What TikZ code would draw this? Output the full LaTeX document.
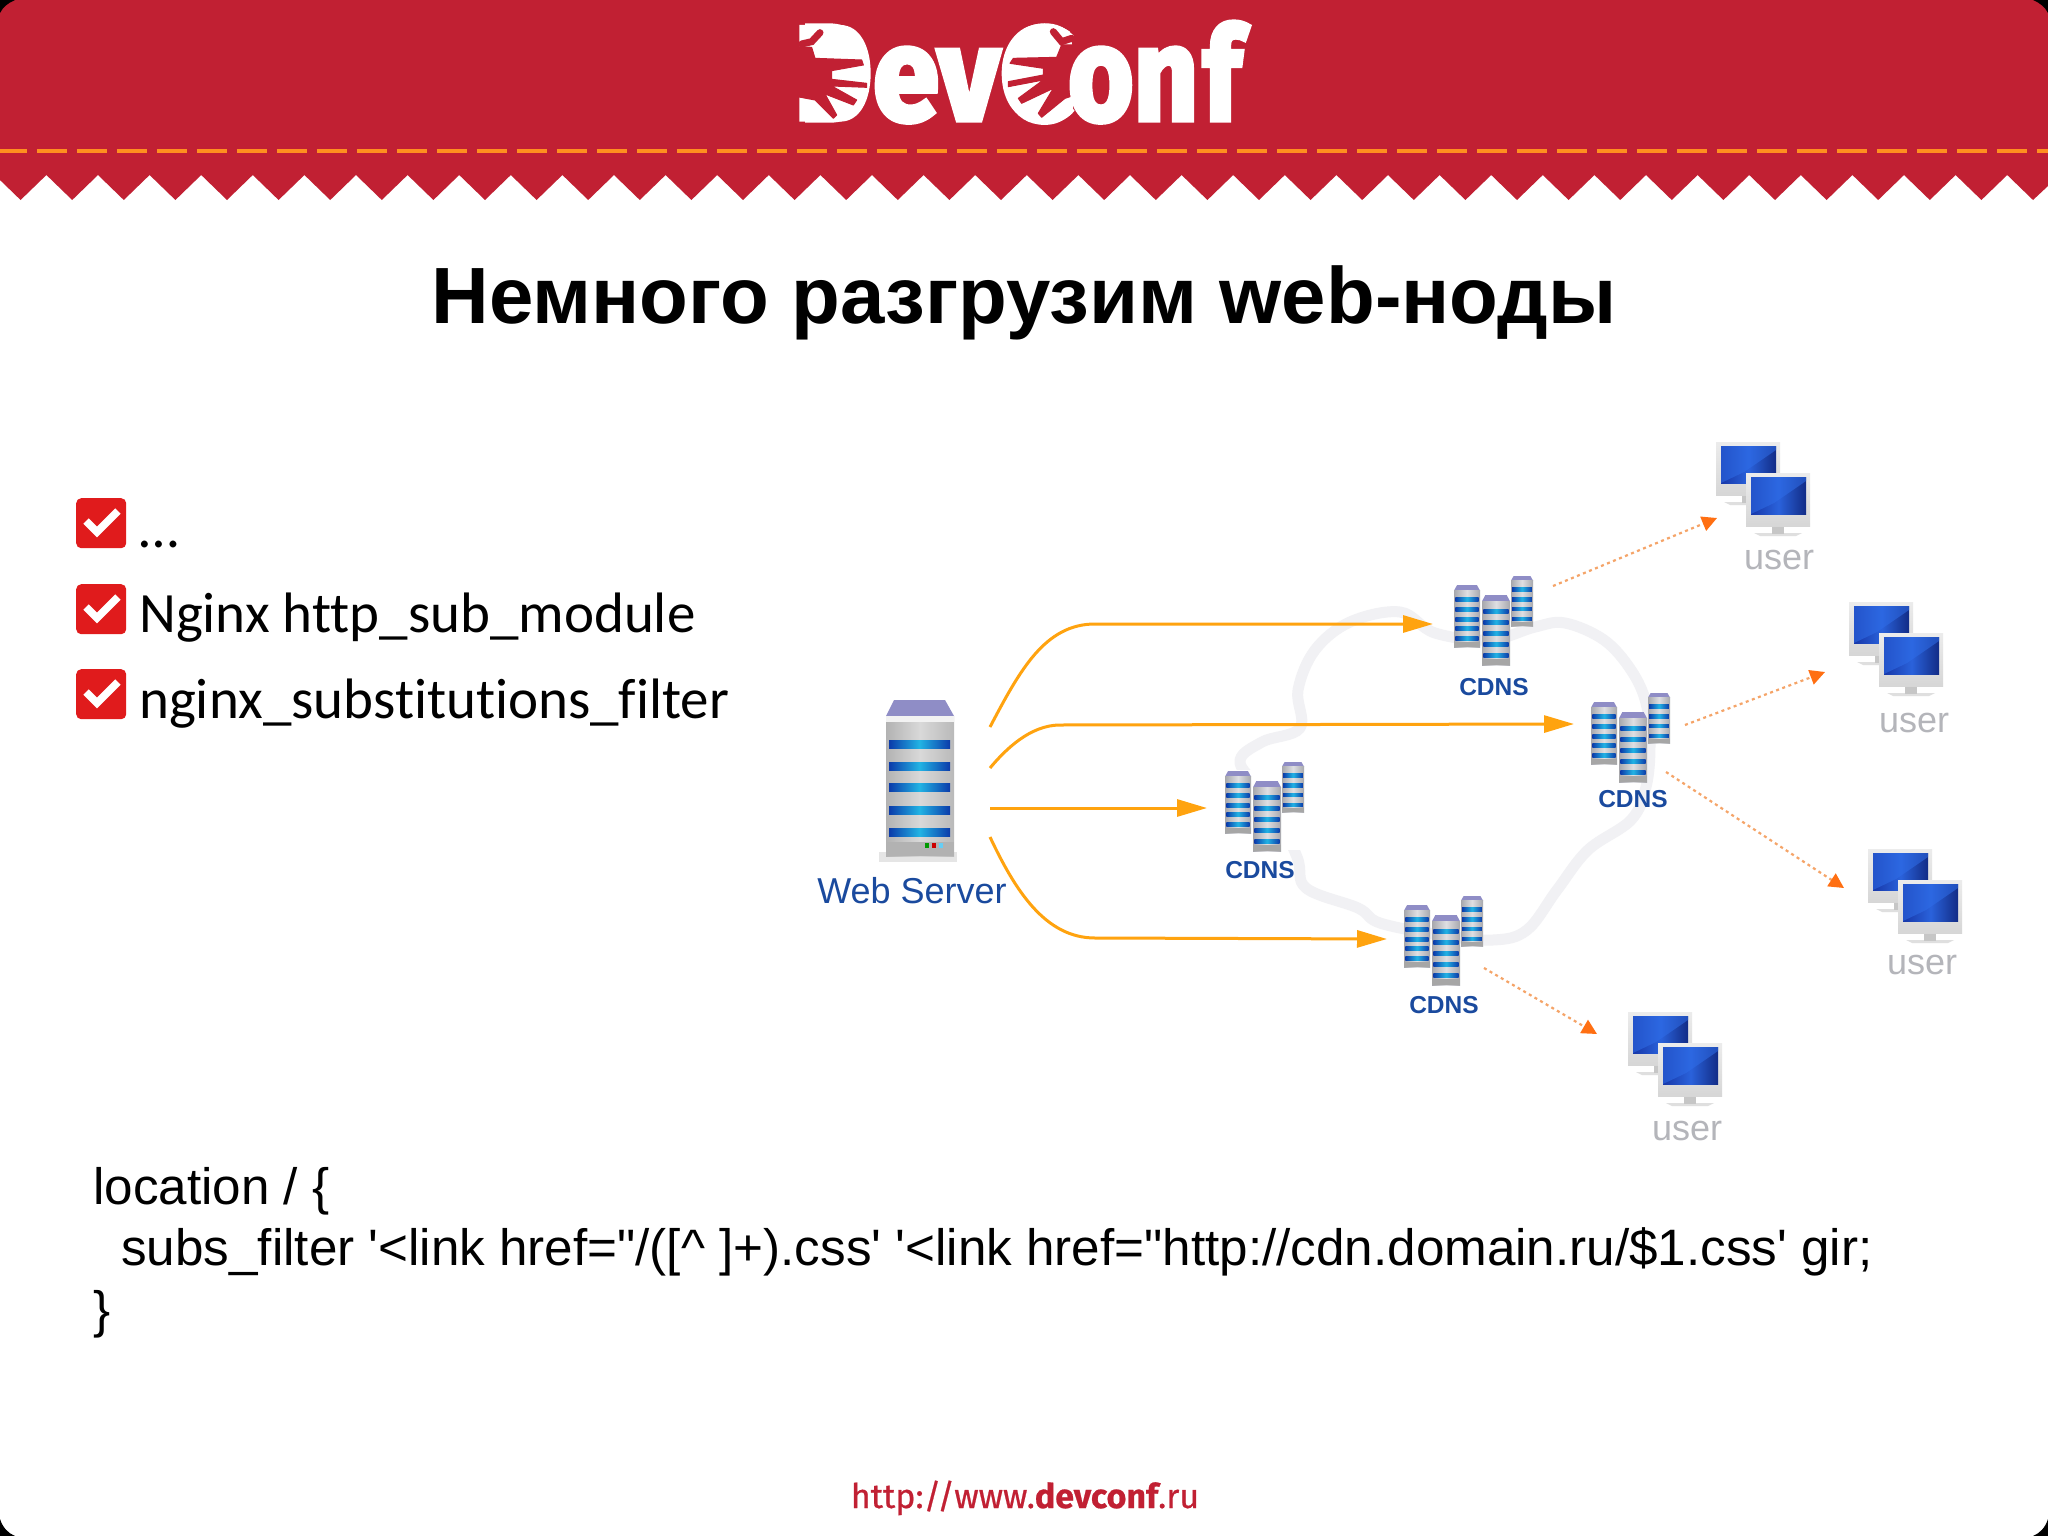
\documentclass[tikz,border=0pt]{standalone}
\usepackage{fontspec}
\usetikzlibrary{arrows.meta,calc}
\setmainfont{Liberation Sans}
\newfontfamily\codefont{Liberation Sans}
\newfontfamily\carlito[Ligatures=NoCommon]{Carlito}
\newfontfamily\ptsans[FakeBold=0.6]{Fira Sans}
\newfontfamily\logofont[BoldFeatures={FakeBold=4}]{Fira Sans}
\definecolor{devred}{HTML}{C12033}
\definecolor{dashor}{HTML}{FF8F1F}
\definecolor{boxred}{HTML}{E01B1C}
\definecolor{flowor}{HTML}{FFA30F}
\definecolor{dotor}{HTML}{F5A468}
\definecolor{tipor}{HTML}{FF6F12}
\definecolor{cloudg}{HTML}{F1F1F4}
\definecolor{srvblue}{HTML}{1A4A9E}
\definecolor{usergr}{HTML}{B4B5BA}
\definecolor{capv}{HTML}{8F8DC6}
\definecolor{bandd}{HTML}{0B3BAA}
\definecolor{bandc}{HTML}{22B4E4}
\definecolor{towerg}{HTML}{C4C5CB}
\definecolor{scrd}{HTML}{1737A8}
\definecolor{scrl}{HTML}{2F6DE8}
\tikzset{
  flow/.style={draw=flowor,line width=3pt,-{Triangle[length=30pt,width=17pt,fill=flowor]}},
  dotflow/.style={draw=dotor,line width=2.2pt,dash pattern=on 3pt off 3.5pt,-{Triangle[length=15pt,width=15pt,fill=tipor,color=tipor,sep=0pt]}},
  cloudline/.style={draw=cloudg,line width=11pt,line join=round},
  srvlabel/.style={text=srvblue,font=\fontsize{36}{40}\selectfont,anchor=base,inner sep=0pt},
  cdnlabel/.style={text=srvblue,font=\bfseries\fontsize{24.5}{28}\selectfont,anchor=base,inner sep=0pt},
  userlabel/.style={text=usergr,font=\fontsize{36}{40}\selectfont,anchor=base,inner sep=0pt},
  icon/.style={inner sep=0pt,outer sep=0pt,draw=none,anchor=north west},
  itemtext/.style={font=\carlito\fontsize{57}{62}\selectfont,anchor=base west,inner sep=0pt,text=black},
  codetext/.style={font=\codefont\fontsize{51.2}{62}\selectfont,anchor=base west,inner sep=0pt,text=black},
  checkbox/.style={fill=boxred,draw=none,rounded corners=5pt,minimum width=50pt,minimum height=50pt,anchor=north west,inner sep=0pt},
  tick/.style={draw=white,line width=7.5pt,line join=miter},
  logotext/.style={inner sep=0pt,anchor=base west,text=white,font=\logofont\bfseries},
  handcut/.style={fill=devred,draw=devred,line width=1pt,line join=round},
  finger/.style={draw=devred,line cap=round,line width=5pt}
}
\newcommand\towr[5]{%
 \begin{scope}[shift={(#1,#2)}]
  \fill[capv] (0.12*#3,0) -- (0.88*#3,0) -- (#3,0.09*#4) -- (0,0.09*#4) -- cycle;
  \shade[left color=towerg!85!black,right color=towerg!85!black,middle color=towerg!55!white] (0,0.09*#4) rectangle (#3,#4);
  \fill[gray!70] (0,0.92*#4) rectangle (#3,#4);
  \pgfmathsetmacro\bh{0.042*#4}
  \foreach \i in {1,...,#5}{
    \pgfmathsetmacro\by{0.09*#4+(\i-0.25)*(0.78*#4)/#5}
    \shade[left color=bandd,right color=bandd,middle color=bandc] (0.05*#3,\by) rectangle (0.95*#3,\by+\bh+1.5);
  }
 \end{scope}}
\newcommand\cdngroup[2]{%
  \towr{#1+57}{#2}{22}{50}{4}
  \towr{#1}{#2+9}{26}{62}{5}
  \towr{#1+28}{#2+19}{28}{70}{5}}
\newcommand\monitor[2]{%
 \begin{scope}[shift={(#1,#2)}]
  \fill[gray!25] (8,60) -- (56,60) -- (50,63) -- (14,63) -- cycle;
  \fill[gray!45] (26,53) rectangle (38,61);
  \shade[top color=gray!15,bottom color=gray!32] (0,0) rectangle (64,53);
  \shade[left color=scrd,right color=scrd!80!black,middle color=scrl!80!scrd] (5,4) rectangle (60,41);
  \fill[scrl,opacity=.55] (5,4) -- (60,4) -- (60,8) -- (28,30) -- (5,41) -- cycle;
 \end{scope}}
\newcommand\usergroup[2]{%
  \monitor{#1}{#2}
  \monitor{#1+30}{#2+31}}
\begin{document}
\begin{tikzpicture}[x=1pt,y=-1pt]
\useasboundingbox (0,0) rectangle (2048,1536);
\fill[white] (0,0) rectangle (2048,1536);
% header
\fill[devred] (-5,0) -- (2048,0) -- (2048,186)
  \foreach \k in {0,...,39}{ -- ({2033-51.6*\k},200) -- ({2033-51.6*\k-25.8},175)} -- cycle;
\draw[dashor,line width=4pt,dash pattern=on 30pt off 10pt,dash phase=3pt] (0,151) -- (2048,151);
% logo: letters
\node[logotext] (logoD) at (800,120) {\resizebox{70pt}{94pt}{D}};
\node[logotext] (logoev) at (873,120) {\resizebox{126pt}{72pt}{ev}};
\node[logotext] (logoC) at (1002,120) {\resizebox{70pt}{94pt}{C}};
\begin{scope}[shift={(760,0)},x=0.3333pt,y=-0.3333pt]
  \fill[white] (118,75) -- (240,75) .. controls (300,75) and (332,140) .. (332,220) .. controls (332,300) and (300,365) .. (240,365) -- (118,365) -- cycle;
  \fill[handcut] (112,140) -- (155,142) -- (165,175) -- (305,180) -- (310,195) -- (215,212) -- (215,238) -- (320,250) -- (320,262) -- (215,258) -- (290,300) -- (280,315) -- (195,282) -- (230,345) -- (220,355) -- (165,300) -- (112,290) -- cycle;
  \draw[finger,line width=7pt] (125,132) -- (155,125) -- (180,98);
  \fill[white] (930,95) .. controls (900,75) and (870,70) .. (840,72) .. controls (770,75) and (725,140) .. (725,220) .. controls (725,305) and (770,370) .. (850,370) .. controls (885,370) and (915,360) .. (937,340) -- (950,220) -- cycle;
  \fill[handcut] (905,135) -- (890,172) -- (760,175) -- (750,190) -- (850,205) -- (850,225) -- (745,245) -- (745,260) -- (850,240) -- (775,295) -- (785,310) -- (880,265) -- (835,340) -- (845,352) -- (915,295) -- (945,285) -- (945,135) -- cycle;
  \draw[finger,line width=7pt] (880,95) -- (905,125) -- (935,115);
\end{scope}
\node[logotext] (logoon) at (1068,120) {\resizebox{130pt}{72pt}{on}};
\node[logotext] (logof) at (1203,120) {\resizebox{38pt}{98pt}{f}};
% title
\node[inner sep=0pt,anchor=base] (title) at (1024,323)
  {\bfseries\fontsize{79.8}{90}\selectfont Немного разгрузим web-ноды};
% corners
\fill[black] (0,1536) -- (0,1519) .. controls (3,1528) and (8,1533) .. (15,1536) -- cycle;
\fill[black] (2048,1536) -- (2048,1519) .. controls (2045,1528) and (2040,1533) .. (2033,1536) -- cycle;
\fill[black] (0,0) -- (0,13) .. controls (3,7) and (8,3) .. (15,0) -- cycle;
\fill[black] (2048,0) -- (2048,13) .. controls (2045,7) and (2040,3) .. (2033,0) -- cycle;
% checklist
\foreach \nm/\yy in {a/498,b/584,c/669}{
  \node[checkbox] (box\nm) at (76,\yy) {};
  \draw[tick] ($(box\nm.north west)+(10,23)$) -- ($(box\nm.north west)+(21,34)$) -- ($(box\nm.north west)+(42,13)$);
}
\node[itemtext] (it1) at (139,547) {…};
\node[itemtext] (it2) at (139,632) {Nginx http\_sub\_module};
\node[itemtext] (it3) at (139,718) {nginx\_substitutions\_filter};
% code
\node[codetext] (c1) at (93,1204) {location / \{};
\node[codetext] (c2) at (121,1265) {subs\_filter '<link href="/([\^{} ]+).css' '<link href="http://cdn.domain.ru/\$1.css' gir;};
\node[codetext] (c3) at (93,1327) {\}};
% footer
\node[inner sep=0pt,anchor=base,text=devred] (foot) at (1025,1508)
  {\ptsans\fontsize{34}{40}\selectfont http://www.\textbf{devconf}.ru};
% cloud
\draw[cloudline] plot[smooth cycle,tension=0.6] coordinates {(1240,763) (1262,742) (1300,728) (1298,690) (1315,650) (1350,622) (1400,612) (1435,633) (1490,640) (1535,627) (1565,623) (1604,640) (1631,670) (1646,703) (1650,745) (1646,787) (1631,820) (1588,850) (1557,890) (1527,930) (1493,940) (1440,935) (1380,923) (1358,908) (1306,888) (1297,857) (1270,800)};
\fill[white] (1222,770) rectangle (1312,850);
% server
\fill[gray!20] (879,852) rectangle (957,862);
\node[icon,minimum width=68pt,minimum height=160pt] (ws) at (886,700) {};
\fill[capv] (894,700) -- (945,700) -- (954,716) -- (886,716) -- cycle;
\shade[left color=gray!60,right color=gray!55,middle color=gray!30] (886,716) rectangle (954,856);
\fill[gray!10] (886,716) rectangle (954,722);
\fill[gray!60] (886,842) rectangle (954,856);
\foreach \yy in {740,762,783,806,828}{
  \shade[left color=bandd,right color=bandd,middle color=bandc] (889,\yy) rectangle (950,\yy+8);
}
\fill[green!60!black] (925,843) rectangle (929,848);
\fill[red!80!black] (932,843) rectangle (936,848);
\fill[cyan!60] (939,843) rectangle (943,848);
\node[srvlabel] (wslab) at (912,903) {Web Server};
% CDNS
\node[icon,minimum width=79pt,minimum height=89pt] (cdnA) at (1225,762) {};
\node[icon,minimum width=79pt,minimum height=89pt] (cdnB) at (1454,576) {};
\node[icon,minimum width=79pt,minimum height=89pt] (cdnC) at (1591,693) {};
\node[icon,minimum width=79pt,minimum height=89pt] (cdnD) at (1404,896) {};
\cdngroup{1225}{762}
\cdngroup{1454}{576}
\cdngroup{1591}{693}
\cdngroup{1404}{896}
\node[cdnlabel] (labA) at (1260,878) {CDNS};
\node[cdnlabel] (labB) at (1494,695) {CDNS};
\node[cdnlabel] (labC) at (1633,807) {CDNS};
\node[cdnlabel] (labD) at (1444,1013) {CDNS};
% users
\node[icon,minimum width=95pt,minimum height=95pt] (userA) at (1716,442) {};
\node[icon,minimum width=95pt,minimum height=95pt] (userB) at (1849,602) {};
\node[icon,minimum width=95pt,minimum height=95pt] (userC) at (1868,849) {};
\node[icon,minimum width=95pt,minimum height=95pt] (userD) at (1628,1012) {};
\usergroup{1716}{442}
\usergroup{1849}{602}
\usergroup{1868}{849}
\usergroup{1628}{1012}
\node[userlabel] (ulA) at (1779,569) {user};
\node[userlabel] (ulB) at (1914,732) {user};
\node[userlabel] (ulC) at (1922,974) {user};
\node[userlabel] (ulD) at (1687,1140) {user};
% connector ends, tied to the icons
\coordinate (wsB) at ($(ws.north east)+(36,27)$);
\coordinate (wsC) at ($(ws.north east)+(36,68)$);
\coordinate (wsA) at ($(ws.north east)+(36,108)$);
\coordinate (wsD) at ($(ws.north east)+(36,137)$);
\coordinate (inB) at ($(cdnB.north west)+(-21,48)$);
\coordinate (inC) at ($(cdnC.north west)+(-17,31)$);
\coordinate (inA) at ($(cdnA.north west)+(-18,46)$);
\coordinate (inD) at ($(cdnD.north west)+(-17,43)$);
\coordinate (outB) at ($(cdnB.north east)+(20,10)$);
\coordinate (outC1) at ($(cdnC.north east)+(15,32)$);
\coordinate (outC2) at ($(cdnC.north east)+(-4,79)$);
\coordinate (outD) at ($(cdnD.north east)+(1,72)$);
\coordinate (toA) at ($(userA.north west)+(1,76)$);
\coordinate (toB) at ($(userB.north west)+(-24,70)$);
\coordinate (toC) at ($(userC.north west)+(-24,39)$);
\coordinate (toD) at ($(userD.north west)+(-31,22)$);
% connectors
\draw[flow] (wsB) .. controls (1020,670) and (1045,624) .. (1095,624) -- (inB);
\draw[flow] (wsC) .. controls (1005,750) and (1030,725) .. (1060,725) -- (inC);
\draw[flow] (wsA) -- (inA);
\draw[flow] (wsD) .. controls (1015,890) and (1045,938) .. (1095,938) -- (inD);
\draw[dotflow] (outB) -- (toA);
\draw[dotflow] (outC1) -- (toB);
\draw[dotflow] (outC2) -- (toC);
\draw[dotflow] (outD) -- (toD);
\end{tikzpicture}
\end{document}
